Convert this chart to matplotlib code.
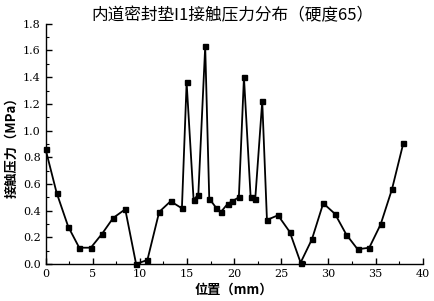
import matplotlib.pyplot as plt
from matplotlib.ticker import MultipleLocator, FormatStrFormatter

plt.rcParams['font.family'] = ['Noto Sans CJK SC', 'DejaVu Sans']

# position (mm) and contact pressure (MPa)
pos = [0, 1.17, 2.4, 3.57, 4.8, 6.0, 7.17, 8.45, 9.6, 10.8,
       12.05, 13.26, 14.46, 14.96, 15.7, 16.2, 16.93, 17.36, 18.1, 18.6,
       19.3, 19.8, 20.5, 21.04, 21.75, 22.24, 22.98, 23.48, 24.65, 25.9,
       27.05, 28.25, 29.45, 30.7, 31.9, 33.1, 34.33, 35.54, 36.74, 37.94]
pressure = [0.86, 0.534, 0.28, 0.122, 0.122, 0.227, 0.345, 0.41, 0.0, 0.03,
            0.39, 0.47, 0.417, 1.36, 0.48, 0.52, 1.63, 0.49, 0.42, 0.39,
            0.45, 0.47, 0.50, 1.40, 0.50, 0.49, 1.22, 0.33, 0.365, 0.24,
            0.01, 0.185, 0.455, 0.375, 0.22, 0.11, 0.122, 0.297, 0.56, 0.904]

title = '内道密封垫I1接触压力分布（硬度65）'
xlabel = '位置（mm）'
ylabel = '接触压力（MPa）'

fig = plt.figure(figsize=(4.34, 3.01), dpi=100)
ax = fig.add_axes([0.105, 0.123, 0.869, 0.798])

ax.plot(pos, pressure, color='black', lw=1.3, marker='s', ms=3.6, clip_on=False, zorder=3)

ax.set_xlim(0, 40)
ax.set_ylim(0, 1.8)
ax.xaxis.set_major_locator(MultipleLocator(5))
ax.xaxis.set_minor_locator(MultipleLocator(2.5))
ax.yaxis.set_major_locator(MultipleLocator(0.2))
ax.yaxis.set_minor_locator(MultipleLocator(0.1))
ax.yaxis.set_major_formatter(FormatStrFormatter('%.1f'))

ax.spines['top'].set_visible(False)
ax.spines['right'].set_visible(False)
for s in ['left', 'bottom']:
    ax.spines[s].set_linewidth(1.0)

ax.tick_params(which='major', direction='in', length=4, width=1.0, labelsize=8)
ax.tick_params(which='minor', direction='in', length=2, width=0.8)
for lab in ax.get_xticklabels() + ax.get_yticklabels():
    lab.set_family('DejaVu Serif')

ax.set_xlabel(xlabel, fontsize=9.5, fontweight='bold', labelpad=3)
ax.set_ylabel(ylabel, fontsize=9.5, fontweight='bold', labelpad=3)
fig.text(0.535, 0.948, title, ha='center', va='center', fontsize=12)

fig.savefig('out.png', dpi=100)
